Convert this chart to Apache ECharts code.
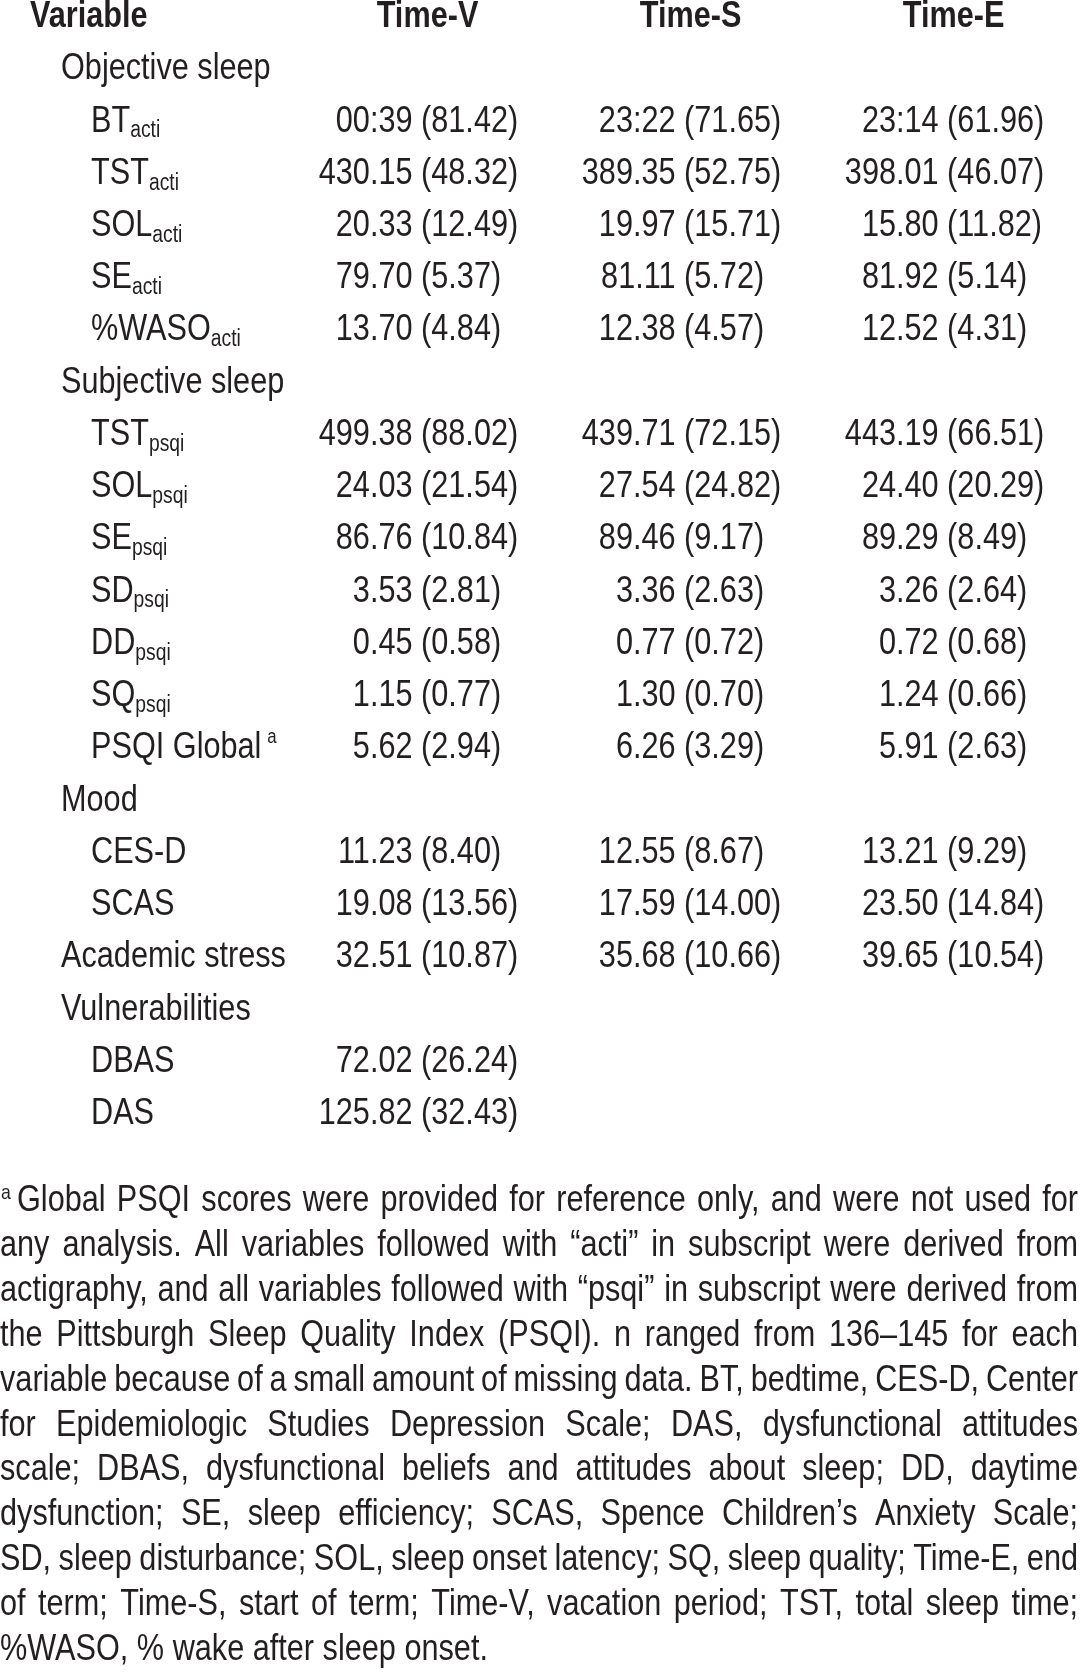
<!DOCTYPE html>
<html><head><meta charset="utf-8">
<script src="https://cdn.jsdelivr.net/npm/echarts@6/dist/echarts.min.js"></script>
<style>html,body{margin:0;padding:0;background:#fff}#c{width:1080px;height:1672px}</style>
</head><body><div id="c"></div>
<script>
// ---- data ----
const headers = ['Variable', 'Time-V', 'Time-S', 'Time-E'];
const varNames = ['Objective sleep','BT','TST','SOL','SE','%WASO','Subjective sleep','TST','SOL','SE','SD','DD','SQ','PSQI Global','Mood','CES-D','SCAS','Academic stress','Vulnerabilities','DBAS','DAS'];
const varSub = ['','acti','acti','acti','acti','acti','','psqi','psqi','psqi','psqi','psqi','psqi','','','','','','','',''];
const varNote = ['','','','','','','','','','','','','','a','','','','','','',''];
const varLevel = [0,1,1,1,1,1,0,1,1,1,1,1,1,1,0,1,1,0,0,1,1];
const timeVMean = [null,'00:39',430.15,20.33,79.70,13.70,null,499.38,24.03,86.76,3.53,0.45,1.15,5.62,null,11.23,19.08,32.51,null,72.02,125.82];
const timeVSD   = [null,81.42,48.32,12.49,5.37,4.84,null,88.02,21.54,10.84,2.81,0.58,0.77,2.94,null,8.40,13.56,10.87,null,26.24,32.43];
const timeSMean = [null,'23:22',389.35,19.97,81.11,12.38,null,439.71,27.54,89.46,3.36,0.77,1.30,6.26,null,12.55,17.59,35.68,null,null,null];
const timeSSD   = [null,71.65,52.75,15.71,5.72,4.57,null,72.15,24.82,9.17,2.63,0.72,0.70,3.29,null,8.67,14.00,10.66,null,null,null];
const timeEMean = [null,'23:14',398.01,15.80,81.92,12.52,null,443.19,24.40,89.29,3.26,0.72,1.24,5.91,null,13.21,23.50,39.65,null,null,null];
const timeESD   = [null,61.96,46.07,11.82,5.14,4.31,null,66.51,20.29,8.49,2.64,0.68,0.66,2.63,null,9.29,14.84,10.54,null,null,null];
const noteLines = [
  'Global PSQI scores were provided for reference only, and were not used for',
  'any analysis. All variables followed with \u201cacti\u201d in subscript were derived from',
  'actigraphy, and all variables followed with \u201cpsqi\u201d in subscript were derived from',
  'the Pittsburgh Sleep Quality Index (PSQI). n ranged from 136\u2013145 for each',
  'variable because of a small amount of missing data. BT, bedtime, CES-D, Center',
  'for Epidemiologic Studies Depression Scale; DAS, dysfunctional attitudes',
  'scale; DBAS, dysfunctional beliefs and attitudes about sleep; DD, daytime',
  'dysfunction; SE, sleep efficiency; SCAS, Spence Children\u2019s Anxiety Scale;',
  'SD, sleep disturbance; SOL, sleep onset latency; SQ, sleep quality; Time-E, end',
  'of term; Time-S, start of term; Time-V, vacation period; TST, total sleep time;',
  '%WASO, % wake after sleep onset.'
];
const noteMark = 'a';

// ---- styling ----
const FONT = "'Liberation Sans', Arial, Helvetica, sans-serif";
const INK = '#231f20';
const FS = 36.5, HFS = 36.5, NFS = 36.5, SX = 0.84;

const chart = echarts.init(document.getElementById('c'), null, {renderer: 'canvas'});
const rowKeys = ['h'].concat(varNames.map((_, i) => 'r' + i));
const timeCols = [[timeVMean, timeVSD], [timeSMean, timeSSD], [timeEMean, timeESD]];
const fmt = v => typeof v === 'number' ? v.toFixed(2) : v;
const cells = [];
for (let r = 0; r < rowKeys.length; r++) for (let c = 0; c < headers.length; c++) cells.push([c, r]);

const base = {fontFamily: FONT, fill: INK, verticalAlign: 'middle'};
function renderCell(params, api) {
  const c = api.value(0), r = api.value(1);
  const p = api.coord([c, r]);
  if (r === 0) {
    return {type: 'text', x: c === 0 ? p[0] - 134.5 : p[0], y: p[1], scaleX: SX,
      style: Object.assign({}, base, {text: headers[c], fontSize: HFS, fontWeight: 'bold', align: c === 0 ? 'left' : 'center'})};
  }
  const i = r - 1;
  if (c === 0) {
    let txt = '{m|' + varNames[i] + '}';
    if (varSub[i]) txt += '{s|' + varSub[i] + '}';
    if (varNote[i]) txt += '{n|' + varNote[i] + '}';
    return {type: 'text', x: p[0] + (varLevel[i] ? -73.5 : -103.5), y: p[1], scaleX: SX,
      style: Object.assign({}, base, {text: txt, align: 'left', rich: {
        m: {fontFamily: FONT, fontSize: FS, lineHeight: 42, fill: INK},
        s: {fontFamily: FONT, fontSize: 23, lineHeight: 23, verticalAlign: 'bottom', fill: INK},
        n: {fontFamily: FONT, fontSize: 20, lineHeight: 20, verticalAlign: 'top', fill: INK, padding: [0, 0, 0, 7]}
      }})};
  }
  const ms = timeCols[c - 1];
  if (ms[0][i] == null) return null;
  return {type: 'group', children: [
    {type: 'text', x: p[0] - 15, y: p[1], scaleX: SX, style: Object.assign({}, base, {text: fmt(ms[0][i]), fontSize: FS, align: 'right'})},
    {type: 'text', x: p[0] - 15, y: p[1], scaleX: SX, style: Object.assign({}, base, {text: ' (' + fmt(ms[1][i]) + ')', fontSize: FS, align: 'left'})}
  ]};
}

// ---- footnote (justified lines) ----
const cv = document.createElement('canvas').getContext('2d');
function measure(t, fs) { cv.font = fs + 'px ' + FONT; return cv.measureText(t).width; }
const noteTop = 1201, notePitch = 44.9, rightEdge = 1078;
const noteEls = [];
noteLines.forEach((line, k) => {
  const x0 = k === 0 ? 17 : 0;
  const words = line.split(' ');
  const widths = words.map(w => measure(w, NFS));
  const natural = widths.reduce((a, b) => a + b, 0);
  const gaps = words.length - 1;
  const avail = (rightEdge - x0) / SX;
  let space = measure(' ', NFS), sx = 1;
  if (k < noteLines.length - 1) {
    space = (avail - natural) / gaps;
    const minSp = NFS * 0.12;
    if (space < minSp) { space = minSp; sx = avail / (natural + minSp * gaps); }
  }
  const children = []; let x = 0;
  words.forEach((w, j) => {
    children.push({type: 'text', x: x, y: 0, style: Object.assign({}, base, {text: w, fontSize: NFS, align: 'left'})});
    x += widths[j] + space;
  });
  noteEls.push({type: 'group', x: x0, y: noteTop + k * notePitch, scaleX: SX * sx, children: children});
});
noteEls.push({type: 'text', x: 1, y: noteTop - 8, scaleX: SX, style: Object.assign({}, base, {text: noteMark, fontSize: 21, align: 'left'})});

chart.setOption({
  animation: false,
  backgroundColor: '#ffffff',
  grid: {left: 164.5, right: 126.4, top: 17, bottom: 558},
  xAxis: {type: 'category', data: headers, boundaryGap: false, show: false},
  yAxis: {type: 'category', data: rowKeys, boundaryGap: false, inverse: true, show: false},
  series: [{type: 'custom', data: cells, renderItem: renderCell, silent: true}],
  graphic: {elements: noteEls}
});
</script></body></html>
